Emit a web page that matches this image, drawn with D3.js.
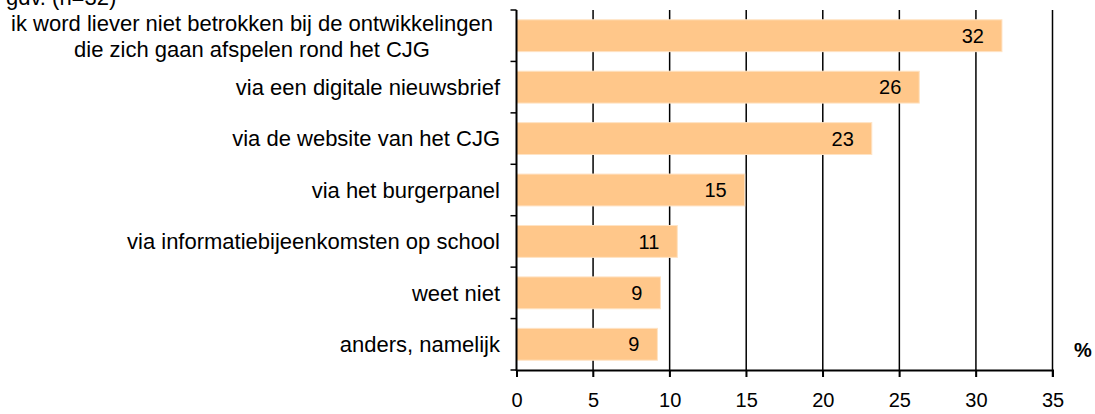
<!DOCTYPE html>
<html>
<head>
<meta charset="utf-8">
<script src="https://cdn.jsdelivr.net/npm/d3@7"></script>
<style>
  body { margin: 0; background: #fff; }
  svg { display: block; font-family: Arial, "Liberation Sans", sans-serif; }
</style>
</head>
<body>
<svg width="1095" height="414"></svg>
<script>
var categories = [
  ["ik word liever niet betrokken bij de ontwikkelingen", "die zich gaan afspelen rond het CJG"],
  ["via een digitale nieuwsbrief"],
  ["via de website van het CJG"],
  ["via het burgerpanel"],
  ["via informatiebijeenkomsten op school"],
  ["weet niet"],
  ["anders, namelijk"]
];
var values = [31.7, 26.3, 23.2, 14.9, 10.5, 9.4, 9.2];
var shown = [32, 26, 23, 15, 11, 9, 9];
var xTicks = [0, 5, 10, 15, 20, 25, 30, 35];

var svg = d3.select("svg");

var x = d3.scaleLinear().domain([0, 35]).range([516.5, 1052.5]);
var y = d3.scaleBand().domain(d3.range(categories.length)).range([10, 370]).paddingInner(0.38).paddingOuter(0.19);

// title, cut off at the top like in the original
svg.append("text")
  .attr("x", 6).attr("y", 5)
  .attr("font-size", 22)
  .text("gdv. (n=32)");

// vertical grid lines, behind the bars
svg.append("g")
  .selectAll("line")
  .data(xTicks.slice(1))
  .enter().append("line")
  .attr("x1", function(d) { return x(d); })
  .attr("x2", function(d) { return x(d); })
  .attr("y1", 10).attr("y2", 377)
  .attr("stroke", "#000").attr("stroke-width", 1.5);

// bars
svg.append("g")
  .selectAll("rect")
  .data(values)
  .enter().append("rect")
  .attr("x", x(0))
  .attr("y", function(d, i) { return y(i); })
  .attr("width", function(d) { return x(d) - x(0); })
  .attr("height", y.bandwidth())
  .attr("fill", "#ffc78a")
  .attr("stroke", "#ffe3c4").attr("stroke-width", 1);

// value labels
svg.append("g")
  .selectAll("text")
  .data(values)
  .enter().append("text")
  .attr("x", function(d) { return x(d) - 18; })
  .attr("y", function(d, i) { return y(i) + y.bandwidth() / 2; })
  .attr("dy", "0.36em")
  .attr("text-anchor", "end")
  .attr("font-size", 20)
  .text(function(d, i) { return shown[i]; });

// x axis
var xAxis = svg.append("g")
  .attr("transform", "translate(0,370)")
  .call(d3.axisBottom(x).tickValues(xTicks).tickSize(7).tickPadding(16));
xAxis.select(".domain").attr("stroke-width", 2);
xAxis.selectAll(".tick line").attr("stroke-width", 1.5);
xAxis.selectAll("text").attr("font-size", 20).attr("font-family", "Arial, 'Liberation Sans', sans-serif");

// y axis line with ticks at band boundaries
var bounds = d3.range(categories.length + 1).map(function(i) { return 10 + i * 360 / categories.length; });
svg.append("line")
  .attr("x1", x(0)).attr("x2", x(0)).attr("y1", 10).attr("y2", 371)
  .attr("stroke", "#000").attr("stroke-width", 2);
svg.append("g")
  .selectAll("line")
  .data(bounds)
  .enter().append("line")
  .attr("x1", x(0) - 6).attr("x2", x(0))
  .attr("y1", function(d) { return d; })
  .attr("y2", function(d) { return d; })
  .attr("stroke", "#000").attr("stroke-width", 1.5);

// category labels
var labels = svg.append("g").attr("font-size", 22);
categories.forEach(function(lines, i) {
  var cy = y(i) + y.bandwidth() / 2;
  if (lines.length === 1) {
    labels.append("text")
      .attr("x", 500).attr("y", cy).attr("dy", "0.36em")
      .attr("text-anchor", "end")
      .text(lines[0]);
  } else {
    lines.forEach(function(t, j) {
      labels.append("text")
        .attr("x", 252).attr("y", cy + (j - 0.5) * 26).attr("dy", "0.36em")
        .attr("text-anchor", "middle")
        .text(t);
    });
  }
});

// unit
svg.append("text")
  .attr("x", 1074).attr("y", 357)
  .attr("font-size", 20).attr("font-weight", "bold")
  .text("%");
</script>
</body>
</html>
